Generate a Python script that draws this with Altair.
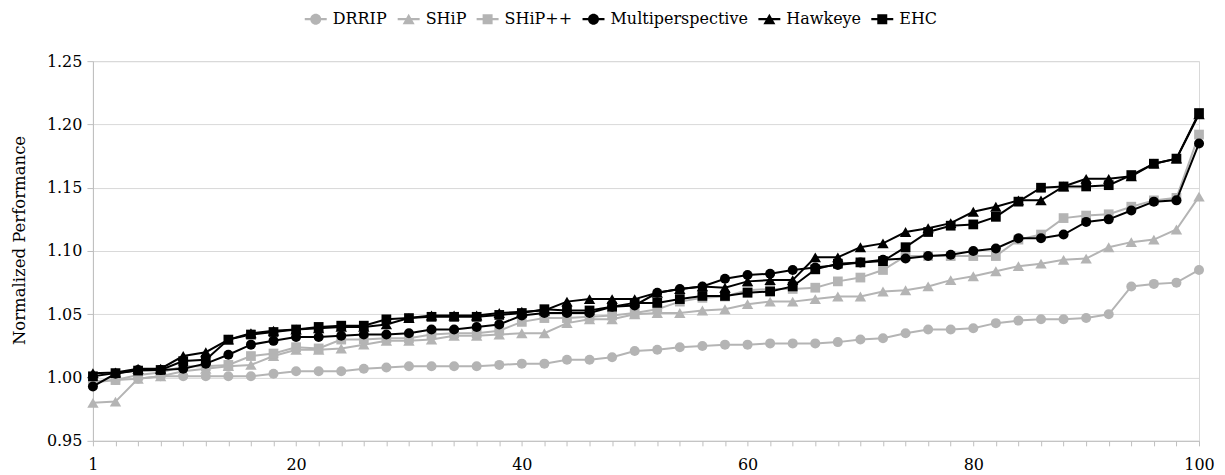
import altair as alt
import pandas as pd

workloads = list(range(2, 101, 2))
series_names = ["DRRIP", "SHiP", "SHiP++", "Multiperspective", "Hawkeye", "EHC"]

drrip = [0.996, 0.998, 0.999, 1.001, 1.001, 1.001, 1.001, 1.001, 1.003, 1.005,
         1.005, 1.005, 1.007, 1.008, 1.009, 1.009, 1.009, 1.009, 1.010, 1.011,
         1.011, 1.014, 1.014, 1.016, 1.021, 1.022, 1.024, 1.025, 1.026, 1.026,
         1.027, 1.027, 1.027, 1.028, 1.030, 1.031, 1.035, 1.038, 1.038, 1.039,
         1.043, 1.045, 1.046, 1.046, 1.047, 1.050, 1.072, 1.074, 1.075, 1.085]
ship = [0.980, 0.981, 0.999, 1.001, 1.005, 1.007, 1.009, 1.010, 1.017, 1.022,
        1.022, 1.023, 1.026, 1.029, 1.029, 1.030, 1.033, 1.033, 1.034, 1.035,
        1.035, 1.043, 1.046, 1.046, 1.050, 1.051, 1.051, 1.053, 1.054, 1.058,
        1.060, 1.060, 1.062, 1.064, 1.064, 1.068, 1.069, 1.072, 1.077, 1.080,
        1.084, 1.088, 1.090, 1.093, 1.094, 1.103, 1.107, 1.109, 1.117, 1.143]
shippp = [0.997, 0.998, 1.002, 1.004, 1.009, 1.009, 1.010, 1.017, 1.019, 1.024,
          1.023, 1.030, 1.030, 1.031, 1.031, 1.034, 1.035, 1.035, 1.037, 1.044,
          1.047, 1.047, 1.048, 1.049, 1.051, 1.054, 1.060, 1.063, 1.064, 1.069,
          1.070, 1.070, 1.071, 1.076, 1.079, 1.085, 1.096, 1.096, 1.096, 1.096,
          1.096, 1.109, 1.113, 1.126, 1.128, 1.129, 1.135, 1.140, 1.142, 1.192]
multi = [0.993, 1.003, 1.006, 1.006, 1.007, 1.011, 1.018, 1.026, 1.029, 1.032,
         1.032, 1.033, 1.034, 1.034, 1.035, 1.038, 1.038, 1.040, 1.042, 1.049,
         1.051, 1.051, 1.051, 1.056, 1.057, 1.067, 1.070, 1.072, 1.078, 1.081,
         1.082, 1.085, 1.087, 1.089, 1.091, 1.093, 1.094, 1.096, 1.097, 1.100,
         1.102, 1.110, 1.110, 1.113, 1.123, 1.125, 1.132, 1.139, 1.140, 1.185]
hawkeye = [1.0035, 1.004, 1.007, 1.007, 1.017, 1.020, 1.030, 1.035, 1.037, 1.038,
           1.039, 1.040, 1.040, 1.042, 1.047, 1.049, 1.049, 1.049, 1.051, 1.052,
           1.053, 1.060, 1.062, 1.062, 1.062, 1.067, 1.070, 1.072, 1.071, 1.076,
           1.077, 1.077, 1.095, 1.095, 1.103, 1.106, 1.115, 1.118, 1.122, 1.131,
           1.135, 1.140, 1.140, 1.151, 1.157, 1.157, 1.159, 1.169, 1.173, 1.208]
ehc = [1.001, 1.0035, 1.0055, 1.006, 1.013, 1.014, 1.030, 1.034, 1.036, 1.038,
       1.040, 1.041, 1.041, 1.046, 1.047, 1.048, 1.048, 1.048, 1.0495, 1.051,
       1.054, 1.053, 1.053, 1.056, 1.059, 1.059, 1.062, 1.0645, 1.0645, 1.067,
       1.068, 1.072, 1.0855, 1.090, 1.091, 1.092, 1.103, 1.115, 1.120, 1.121,
       1.127, 1.139, 1.150, 1.151, 1.151, 1.152, 1.160, 1.169, 1.173, 1.209]

y_ticks = [0.95, 1.00, 1.05, 1.10, 1.15, 1.20, 1.25]
GRAY = "#b4b4b4"
BLACK = "#000000"
series_colors = [GRAY, GRAY, GRAY, BLACK, BLACK, BLACK]
series_shapes = ["circle", "triangle-up", "square", "circle", "triangle-up", "square"]
series_sizes = [100, 130, 95, 100, 130, 95]

# legend symbols: a short line segment with the series marker on it
LINE = "M-1.57,-0.157H1.57V0.157H-1.57Z"
CIRC = "M-0.786,0A0.786,0.786 0 1,1 0.786,0A0.786,0.786 0 1,1 -0.786,0Z"
TRI = "M0,-0.786L0.857,0.714H-0.857Z"
SQR = "M-0.714,-0.714H0.714V0.714H-0.714Z"
legend_shapes = [LINE + CIRC, LINE + TRI, LINE + SQR, LINE + CIRC, LINE + TRI, LINE + SQR]

rows = []
for name, vals in zip(series_names, [drrip, ship, shippp, multi, hawkeye, ehc]):
    for w, v in zip(workloads, vals):
        rows.append({"workload": w, "perf": v, "series": name})
df = pd.DataFrame(rows)

FONT = "DejaVu Serif"

x_enc = alt.X(
    "workload:Q",
    scale=alt.Scale(domain=[2, 100], nice=False, zero=False),
    axis=alt.Axis(
        values=workloads,
        labelExpr="datum.value == 2 ? '1' : (datum.value % 20 == 0 ? datum.label : '')",
        grid=False, title=None, tickSize=5, labelPadding=11,
        labelOverlap=False, labelFlush=False,
    ),
)
y_enc = alt.Y(
    "perf:Q",
    scale=alt.Scale(domain=[0.95, 1.25], nice=False, zero=False),
    axis=alt.Axis(
        values=y_ticks, format=".2f", title="Normalized Performance",
        tickSize=6, labelPadding=5, titlePadding=19, titleY=179, grid=True,
    ),
)
legend = alt.Legend(
    title=None, orient="none", direction="horizontal", legendX=215, legendY=-50,
    labelFont=FONT, labelFontSize=16, labelColor=BLACK, symbolSize=196,
    symbolStrokeWidth=0, symbolOpacity=1, columnPadding=10, labelOffset=9,
    labelLimit=400,
)
color_enc = alt.Color("series:N", scale=alt.Scale(domain=series_names, range=series_colors), legend=legend)
shape_enc = alt.Shape("series:N", scale=alt.Scale(domain=series_names, range=legend_shapes), legend=legend)

base = alt.Chart(df)
layers = [base.mark_point(filled=True, opacity=0).encode(
    x=x_enc, y=y_enc, color=color_enc, shape=shape_enc)]
for name, col, shp, sz in zip(series_names, series_colors, series_shapes, series_sizes):
    sub = base.transform_filter(alt.datum.series == name)
    layers.append(sub.mark_line(color=col, strokeWidth=2).encode(x=x_enc, y=y_enc))
    layers.append(sub.mark_point(filled=True, shape=shp, color=col, size=sz, opacity=1).encode(
        x=x_enc, y=y_enc))

chart = alt.layer(*layers).properties(
    width=1107, height=380,
    autosize=alt.AutoSizeParams(type="none"),
    padding={"left": 85, "top": 53, "right": 18, "bottom": 42},
).configure(font=FONT).configure_view(stroke="#d9d9d9").configure_axis(
    labelFont=FONT, titleFont=FONT, labelFontSize=16, titleFontSize=16.5,
    titleFontWeight="normal", labelColor=BLACK, titleColor=BLACK,
    domainColor="#bfbfbf", tickColor="#bfbfbf", gridColor="#d9d9d9",
)

chart.save("out.html", embed_options={"renderer": "svg", "actions": False})
